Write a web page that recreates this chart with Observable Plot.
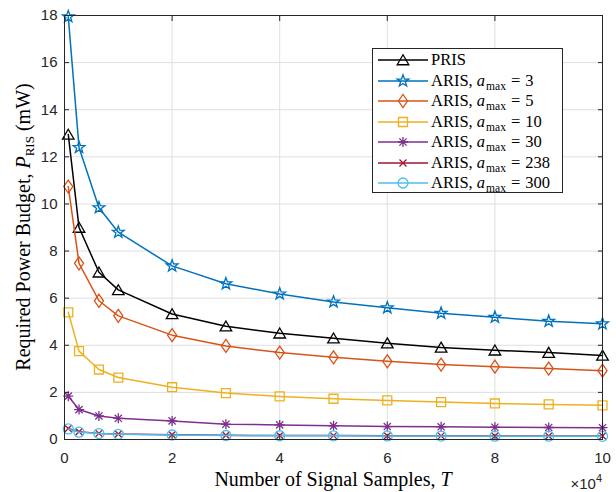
<!DOCTYPE html>
<html><head><meta charset="utf-8">
<script src="https://cdn.jsdelivr.net/npm/d3@7"></script>
<script src="https://cdn.jsdelivr.net/npm/@observablehq/plot@0.6"></script>
<style>
body{margin:0;background:#fff;}
#wrap{position:relative;width:616px;height:492px;overflow:hidden;}
#legend{position:absolute;left:372px;top:48px;width:189px;height:142px;border:1px solid #262626;background:#fff;padding-top:1px;box-sizing:content-box;}
.row{height:20.5px;display:flex;align-items:center;font-family:"Liberation Serif",serif;font-size:16.5px;color:#000;white-space:nowrap;}
.row svg{flex:none;}
.row span{margin-left:2px;}
.row sub{font-size:11.5px;vertical-align:-4px;line-height:0;margin-left:1px;}
.row .eq{margin:0 5px;}
</style></head><body><div id="wrap"></div>
<script>
// ---- data ----
const samples = [700, 2700, 6400, 10000, 20000, 30000, 40000, 50000, 60000, 70000, 80000, 90000, 100000];
const pris    = [12.95, 9.0, 7.1, 6.35, 5.33, 4.81, 4.51, 4.30, 4.09, 3.91, 3.79, 3.69, 3.57];
const aris3   = [17.95, 12.4, 9.84, 8.8, 7.37, 6.61, 6.18, 5.84, 5.59, 5.36, 5.19, 5.02, 4.91];
const aris5   = [10.74, 7.48, 5.89, 5.25, 4.43, 3.97, 3.69, 3.49, 3.32, 3.18, 3.09, 3.01, 2.92];
const aris10  = [5.4, 3.75, 2.97, 2.63, 2.22, 1.97, 1.83, 1.73, 1.66, 1.59, 1.53, 1.49, 1.45];
const aris30  = [1.84, 1.27, 1.0, 0.9, 0.79, 0.65, 0.62, 0.58, 0.55, 0.54, 0.52, 0.51, 0.50];
const aris238 = [0.47, 0.33, 0.26, 0.23, 0.20, 0.18, 0.17, 0.165, 0.16, 0.155, 0.15, 0.15, 0.145];
const aris300 = [0.45, 0.31, 0.25, 0.22, 0.19, 0.17, 0.16, 0.155, 0.15, 0.145, 0.14, 0.14, 0.135];
const seriesNames = ["PRIS", "ARIS3", "ARIS5", "ARIS10", "ARIS30", "ARIS238", "ARIS300"];
const aMax = [null, 3, 5, 10, 30, 238, 300];
const xTicks = [0, 20000, 40000, 60000, 80000, 100000];
const yTicks = [0, 2, 4, 6, 8, 10, 12, 14, 16, 18];

// ---- styles ----
const colors = ["#000000", "#0072BD", "#D95319", "#EDB120", "#7E2F8E", "#A2142F", "#4DBEEE"];
const rad = (size) => Math.sqrt(size / Math.PI);
const symTriangle = {draw(c, s){ const r = rad(s); c.moveTo(0, -0.9*r); c.lineTo(r, 0.82*r); c.lineTo(-r, 0.82*r); c.closePath(); }};
const symStar = {draw(c, s){ const R = rad(s), ri = R*0.4; for (let k = 0; k < 10; k++){ const a = -Math.PI/2 + k*Math.PI/5, rr = k%2 ? ri : R; const px = rr*Math.cos(a), py = rr*Math.sin(a); k ? c.lineTo(px, py) : c.moveTo(px, py);} c.closePath(); }};
const symDiamond = {draw(c, s){ const r = rad(s); c.moveTo(0, -r); c.lineTo(0.7*r, 0); c.lineTo(0, r); c.lineTo(-0.7*r, 0); c.closePath(); }};
const symSquare = {draw(c, s){ const h = rad(s)*0.8; c.moveTo(-h, -h); c.lineTo(h, -h); c.lineTo(h, h); c.lineTo(-h, h); c.closePath(); }};
const symAsterisk = {draw(c, s){ const r = rad(s), d = r*0.72; c.moveTo(0,-r); c.lineTo(0,r); c.moveTo(-r,0); c.lineTo(r,0); c.moveTo(-d,-d); c.lineTo(d,d); c.moveTo(-d,d); c.lineTo(d,-d); }};
const symTimes = {draw(c, s){ const d = rad(s)*0.7; c.moveTo(-d,-d); c.lineTo(d,d); c.moveTo(-d,d); c.lineTo(d,-d); }};
const symCircle = {draw(c, s){ const r = rad(s); c.moveTo(r, 0); c.arc(0, 0, r, 0, 2*Math.PI); }};
const symbols = [symTriangle, symStar, symDiamond, symSquare, symAsterisk, symTimes, symCircle];
const radii = [5.8, 6.2, 6.5, 5.6, 5, 5, 5];

const values = [pris, aris3, aris5, aris10, aris30, aris238, aris300];
const seriesData = values.map((vals, si) => samples.map((x, i) => ({x, y: vals[i], series: seriesNames[si]})));

const seriesMarks = seriesData.flatMap((data, si) => [
  Plot.line(data, {x: "x", y: "y", stroke: colors[si], strokeWidth: 1.5}),
  Plot.dot(data, {x: "x", y: "y", stroke: colors[si], fill: "none", strokeWidth: 1.3, r: radii[si], symbol: symbols[si]})
]);

const chart = Plot.plot({
  width: 616, height: 492,
  marginLeft: 64, marginRight: 14, marginTop: 15, marginBottom: 53,
  style: {fontFamily: "'Liberation Sans', Arial, sans-serif", fontSize: "15px", color: "#262626", background: "#fff", overflow: "visible"},
  x: {domain: [0, 100000]},
  y: {domain: [0, 18]},
  marks: [
    Plot.gridX(xTicks, {stroke: "#dfdfdf", strokeOpacity: 1}),
    Plot.gridY(yTicks, {stroke: "#dfdfdf", strokeOpacity: 1}),
    ...seriesMarks,
    Plot.frame({stroke: "#262626"}),
    Plot.axisX({anchor: "bottom", ticks: xTicks, tickSize: -5, tickPadding: 18, tickFormat: d => d / 1e4, label: null}),
    Plot.axisX({anchor: "top", ticks: xTicks, tickSize: -5, tickFormat: () => "", label: null}),
    Plot.axisY({anchor: "left", ticks: yTicks, tickSize: -5, tickPadding: 12, tickFormat: d => d, label: null}),
    Plot.axisY({anchor: "right", ticks: yTicks, tickSize: -5, tickFormat: () => "", label: null})
  ]
});

const wrap = document.getElementById("wrap");
wrap.appendChild(chart);

// axis titles and exponent
const svg = d3.select(chart);
const xt = svg.append("text").attr("x", 333).attr("y", 486).attr("text-anchor", "middle")
  .style("font-family", "'Liberation Serif', serif").style("font-size", "20px").attr("fill", "#000");
xt.append("tspan").text("Number of Signal Samples, ");
xt.append("tspan").attr("font-style", "italic").text("T");

const yt = svg.append("text").attr("transform", "translate(30,227) rotate(-90)").attr("text-anchor", "middle")
  .style("font-family", "'Liberation Serif', serif").style("font-size", "20px").attr("fill", "#000");
yt.append("tspan").text("Required Power Budget, ");
yt.append("tspan").attr("font-style", "italic").text("P");
yt.append("tspan").attr("font-size", "13px").attr("dy", 4).text("RIS");
yt.append("tspan").attr("dy", -4).text(" (mW)");

const ex = svg.append("text").attr("x", 602).attr("y", 489).attr("text-anchor", "end")
  .style("font-family", "'Liberation Sans', Arial, sans-serif").style("font-size", "15px").attr("fill", "#262626");
ex.append("tspan").text("\u00d710");
ex.append("tspan").attr("font-size", "11px").attr("dy", -7).text("4");

// legend
const legend = document.createElement("div");
legend.id = "legend";
seriesNames.forEach((name, si) => {
  const row = document.createElement("div");
  row.className = "row";
  const s = d3.create("svg").attr("width", 56).attr("height", 20);
  s.append("line").attr("x1", 5).attr("x2", 55).attr("y1", 10).attr("y2", 10).attr("stroke", colors[si]).attr("stroke-width", 1.5);
  const p = d3.path();
  symbols[si].draw(p, Math.PI * radii[si] * radii[si]);
  s.append("path").attr("d", p.toString()).attr("transform", "translate(30,10)").attr("fill", "none").attr("stroke", colors[si]).attr("stroke-width", 1.3);
  row.appendChild(s.node());
  const t = document.createElement("span");
  t.innerHTML = aMax[si] == null ? "PRIS" : `ARIS, <i>a</i><sub>max</sub><span class="eq">=</span>${aMax[si]}`;
  row.appendChild(t);
  legend.appendChild(row);
});
wrap.appendChild(legend);
</script></body></html>
